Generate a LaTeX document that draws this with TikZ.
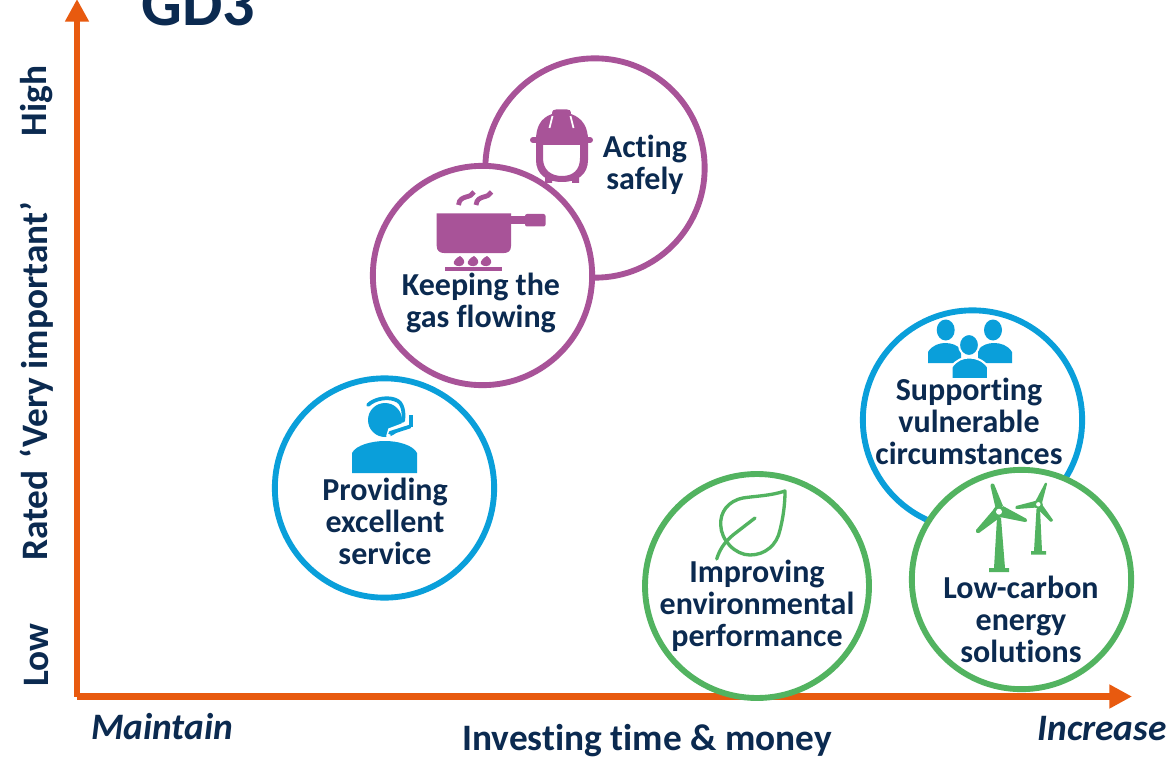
\documentclass[tikz,border=0pt]{standalone}
\usepackage{fontspec}
\setmainfont[Ligatures=NoCommon]{Carlito}
\usetikzlibrary{arrows.meta}
\definecolor{purp}{HTML}{A85398}
\definecolor{blu}{HTML}{0A9FDA}
\definecolor{grn}{HTML}{52B360}
\definecolor{nav}{HTML}{0B2A50}
\definecolor{org}{HTML}{E85A0F}
\tikzset{
  topic/.style={circle,draw=#1,line width=4.4pt,fill=white,minimum size=164.5pt,inner sep=0pt},
  lbl/.style={text=nav,font=\bfseries\fontsize{24}{24}\selectfont,align=center,inner sep=0pt},
  axlbl/.style={text=nav,font=\bfseries\fontsize{28}{30}\selectfont,inner sep=0pt},
  axital/.style={text=nav,font=\bfseries\itshape\fontsize{28}{30}\selectfont,inner sep=0pt},
  axline/.style={draw=org,line width=5pt,-{Triangle[length=17pt,width=17pt]}}
}
\begin{document}
\begin{tikzpicture}[x=0.75pt,y=-0.75pt]
\useasboundingbox (0,0) rectangle (1173,759);
\clip (0,0) rectangle (1173,759);
\fill[white] (0,0) rectangle (1173,759);
% Title
\node[anchor=base west,text=nav,font=\bfseries\fontsize{48}{48}\selectfont,inner sep=0pt] (title) at (141,26) {GD3};
% Axes
\coordinate (origin) at (77,696.5);
\coordinate (ytop) at (77,-1);
\coordinate (xend) at (1132,696.5);
\draw[axline] (origin) -- (ytop);
\draw[axline] (origin) -- (xend);
% Circles
\node[topic=purp] (acting) at (595,168) {};
% Helmet
\fill[purp] (536,140) .. controls (536,128) and (540,118) .. (552,114) .. controls (552,110) and (554,109.5) .. (556,109.5) -- (567,109.5) .. controls (569,109.5) and (571,110) .. (571,114) .. controls (583,118) and (588,128) .. (588,140) -- cycle;
\draw[white,line width=1.3pt] (552.5,116) -- (549.5,128) (570.5,116) -- (573.5,128);
\draw[purp,line width=4.5pt,line cap=round] (533,140) -- (590,140);
\fill[purp,even odd rule] (536,140) -- (588,140) -- (588,160) .. controls (588,174) and (578,182) .. (562,182) .. controls (546,182) and (536,174) .. (536,160) -- cycle
 (543,145) -- (580,145) -- (580,158) .. controls (580,170) and (573,176) .. (562,176) .. controls (551,176) and (543,170) .. (543,158) -- cycle;
\fill[purp] (545,174) rectangle (552,183) (572,174) rectangle (579,183);
\node[lbl] (actingT) at (645,165) {Acting\\safely};
\node[topic=purp] (keeping) at (482.5,275.5) {};
% Pot
\fill[purp] (436.7,213.5) -- (511,213.5) -- (511,246) .. controls (511,251) and (508,253) .. (504,253) -- (444,253) .. controls (440,253) and (436.7,251) .. (436.7,246) -- cycle;
\fill[purp] (510,216.5) rectangle (527,224.5);
\fill[purp,rounded corners=1.5pt] (525,214) rectangle (545.5,226.5);
\fill[purp] (445,267) rectangle (502,270.5);
\foreach \fx in {459,473,486}{
  \fill[purp] (\fx+1,256) .. controls (\fx+4,258) and (\fx+6,261) .. (\fx+5,263) .. controls (\fx+4,267) and (\fx-3,267) .. (\fx-5,264) .. controls (\fx-6,261) and (\fx-3,258) .. (\fx+1,256) -- cycle;
}
\foreach \sx in {0,17.5}{
  \draw[purp,line width=3.6pt] (\sx+458.5,205) .. controls (\sx+459,199) and (\sx+463,198) .. (\sx+466,197) .. controls (\sx+470,196) and (\sx+472,195) .. (\sx+474,192);
}
\node[lbl] (keepingT) at (481,302.5) {Keeping the\\gas flowing};
\node[topic=blu] (service) at (384.5,488) {};
% Headset person
\fill[blu] (385,420) circle[radius=17];
\fill[blu] (352,473) -- (352,453) .. controls (356,445) and (372,441) .. (385,441) .. controls (398,441) and (413,445) .. (417,453) -- (417,473) -- cycle;
\draw[white,line width=1.5pt] (405,401) .. controls (408,412) and (405,422) .. (403,423);
\draw[white,line width=3pt] (388,437) -- (390,430) -- (406,424);
\draw[blu,line width=2.8pt,line cap=round] (368,405) .. controls (375,398) and (390,396) .. (398,401) .. controls (404,405) and (404,416) .. (403,421);
\draw[blu,line width=2.8pt,line cap=round] (390,433) -- (410,426.5);
\draw[blu,line width=3pt] (411,415) -- (411,427);
\node[lbl] (serviceT) at (385,521.5) {Providing\\excellent\\service};
\node[topic=blu] (vuln) at (972.5,420) {};
% People
\fill[blu] (945.7,330) ellipse[x radius=9,y radius=10.5] (993,330) ellipse[x radius=9,y radius=10.5];
\fill[blu] (928,363) -- (928,352) .. controls (932,345) and (940,343) .. (945,343) .. controls (951,343) and (958,345) .. (961,350) -- (961,363) -- cycle;
\fill[blu] (978,363) -- (978,350) .. controls (982,345) and (988,343) .. (994,343) .. controls (1000,343) and (1008,345) .. (1012,352) -- (1012,363) -- cycle;
\filldraw[fill=blu,draw=white,line width=1.5pt] (969,345) ellipse[x radius=10,y radius=11];
\filldraw[fill=blu,draw=white,line width=1.5pt] (951.5,379) -- (951.5,367) .. controls (956,360) and (963,357.5) .. (969,357.5) .. controls (976,357.5) and (983,360) .. (988,367) -- (988,379) -- cycle;
\node[lbl] (vulnT) at (969,421.5) {Supporting\\vulnerable\\circumstances};
\node[topic=grn] (lowc) at (1021.5,579.5) {};
% Turbines
\fill[grn] (997,518) -- (1001,518) -- (1005,568) -- (1009,568) -- (1009,572) -- (989,572) -- (989,568) -- (994,568) -- cycle;
\fill[grn] (996,510) -- (990.5,486) .. controls (990.5,483) and (993,483) .. (994,484) -- (1003,506) -- cycle;
\fill[grn] (1003,506) -- (1026,518.5) .. controls (1028,521) and (1027,522) .. (1025,522) -- (1000,517) -- cycle;
\fill[grn] (994,509) -- (1002,516) -- (979,533) .. controls (976,533.5) and (975,531) .. (976,530) -- cycle;
\fill[grn] (999,511.7) circle[radius=6];
\fill[white] (999,511.7) circle[radius=3];
\fill[grn] (1036.5,509) -- (1040,509) -- (1042,551) -- (1046,551) -- (1046,554.5) -- (1031,554.5) -- (1031,551) -- (1034,551) -- cycle;
\fill[grn] (1035,502) -- (1045,483) .. controls (1046,482) and (1047,483) .. (1047,484) -- (1042,503) -- cycle;
\fill[grn] (1037,500.5) -- (1016,506) .. controls (1015,508) and (1015,509) .. (1017,509) -- (1037,507.5) -- cycle;
\fill[grn] (1041,503) -- (1053,520) .. controls (1053,522) and (1051,522) .. (1050,521.5) -- (1035.5,507) -- cycle;
\fill[grn] (1038.3,504.3) circle[radius=4.5];
\fill[white] (1038.3,504.3) circle[radius=2.2];
\node[lbl] (lowcT) at (1021,619) {Low-carbon\\energy\\solutions};
\node[topic=grn,minimum size=168pt] (env) at (757,586) {};
% Leaf
\draw[grn,line width=2.5pt,line join=round] (785,491) .. controls (770,496) and (755,496) .. (743,498) .. controls (728,501) and (720,512) .. (720.7,525) .. controls (721,540) and (735,555) .. (750,555) .. controls (765,555) and (777,545) .. (780,530) .. controls (783,518) and (785,505) .. (785,491) -- cycle;
\draw[grn,line width=2.5pt,line cap=round] (716.7,559) .. controls (720,548) and (726,541) .. (733,535) -- (755,518);
\node[lbl] (envT) at (757,605.5) {Improving\\environmental\\performance};
% Axis labels
\node[axlbl,rotate=90] (hi) at (37,101) {High};
\node[axlbl,rotate=90] (rated) at (37,381.5) {Rated\hspace{0.32em}‘Very important’};
\node[axlbl,rotate=90] (lo) at (37,655) {Low};
\node[axital] (maintain) at (162,727) {Maintain};
\node[axlbl] (invest) at (647,740.5) {Investing time \& money};
\node[axital] (incr) at (1102,729) {Increase};
\end{tikzpicture}
\end{document}
